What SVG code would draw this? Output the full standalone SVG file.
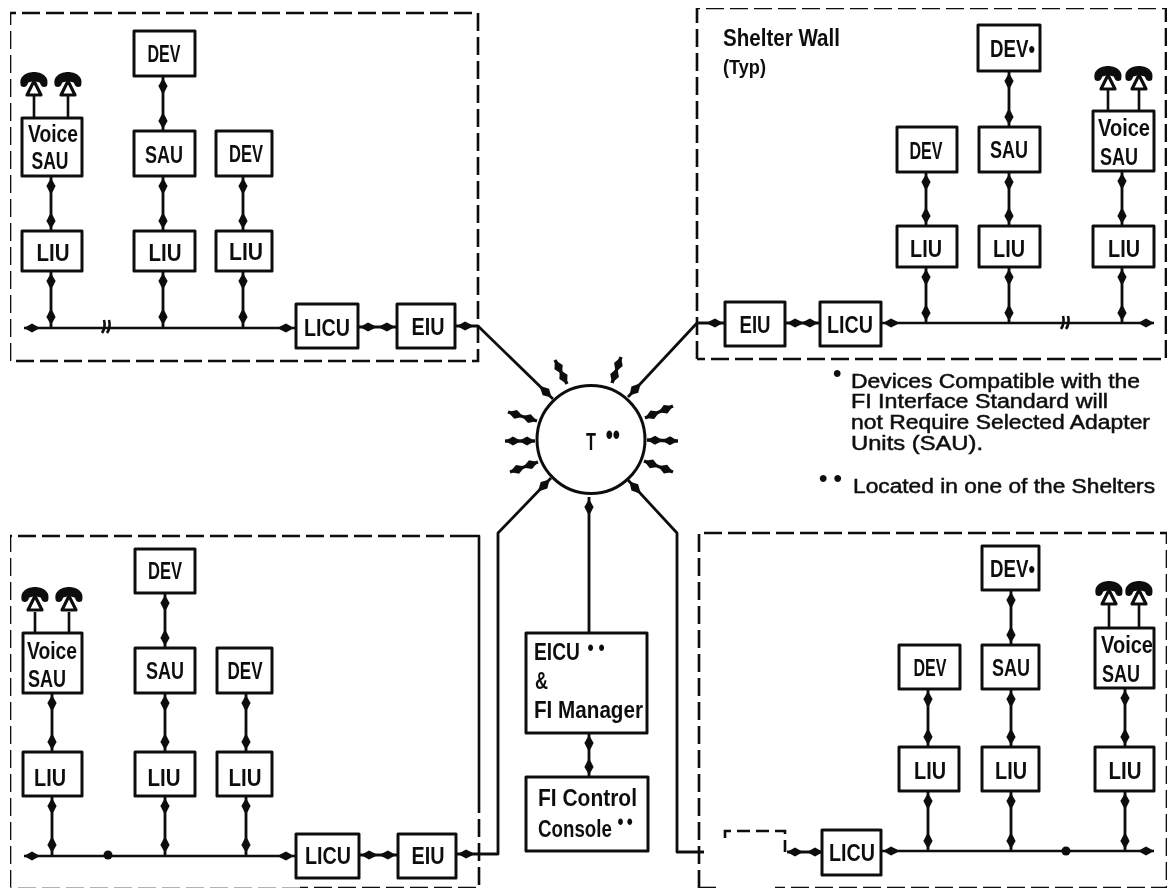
<svg xmlns="http://www.w3.org/2000/svg" xmlns:xlink="http://www.w3.org/1999/xlink" width="1167" height="891" viewBox="0 0 1167 891">
<style>
.box{fill:#fff;stroke:#111;stroke-width:3;stroke-linejoin:round}
.p{fill:none;stroke:#111;stroke-width:2.6;stroke-dasharray:18 6}
.s{fill:none;stroke:#111;stroke-width:2.6;stroke-linejoin:round}
.c{fill:none;stroke:#111;stroke-width:2.8;stroke-linejoin:round;marker-start:url(#d);marker-end:url(#d)}
.b{fill:none;stroke:#111;stroke-width:2.6;stroke-linejoin:round;marker-start:url(#e);marker-end:url(#d)}
.t{fill:none;stroke:#111;stroke-width:3.4;marker-start:url(#e);marker-end:url(#e)}
.n{fill:none;stroke:#111;stroke-width:2.8;stroke-linejoin:round;marker-end:url(#d)}
text{font-family:"Liberation Sans",Arial,sans-serif;fill:#111;font-size:24px;font-weight:700;text-anchor:middle}
.l{text-anchor:start}
.f{font-size:20px;font-weight:400;stroke:#111;stroke-width:.5;text-anchor:start}
</style>
<defs>
<marker id="d" markerUnits="userSpaceOnUse" markerWidth="30" markerHeight="12" viewBox="-24 -6 30 12" refX="0" refY="0" orient="auto-start-reverse" overflow="visible"><path d="M-19 0L-10 -4.6L-2 0L-10 4.6Z" fill="#111"/></marker>
<marker id="e" markerUnits="userSpaceOnUse" markerWidth="30" markerHeight="12" viewBox="-24 -6 30 12" refX="0" refY="0" orient="auto-start-reverse" overflow="visible"><path d="M-16 0L-8 -4.6L0 0L-8 4.6Z" fill="#111"/></marker>
<g id="phone"><path d="M-13 -11C-16 -21 -7 -25 0 -25C7 -25 16 -21 13 -11C10 -9 7 -10 6 -14C4 -16 -4 -16 -6 -14C-7 -10 -10 -9 -13 -11Z" fill="#111"/><path d="M0 -16L-7 -2L7 -2Z" fill="#fff" stroke="#111" stroke-width="3.2" stroke-linejoin="round"/></g>
<filter id="soft" x="0" y="0" width="100%" height="100%"><feGaussianBlur stdDeviation="0.6"/></filter>
</defs>
<rect width="1167" height="891" fill="#fff"/>
<g filter="url(#soft)">
<g id="shelter-walls">
<path class="p" d="M10 361V13H478V361H10"/>
<path class="p" d="M697 359V8H1166V359H697"/>
<path class="p" d="M10 888V536H470"/><path class="s" d="M468 536H479V795"/><path class="p" d="M479 795V888H300"/><path class="p" d="M300 888H10" style="stroke:#999;stroke-width:1.5"/>
<path class="p" d="M699 888V533H1167V888H775"/><path class="s" d="M699 888H716"/>
<path class="p" d="M725 838V831H785V852" style="stroke-dasharray:13 6"/>
</g>
<g id="connectors">
<path class="b" d="M24 328H296"/><path class="s" d="M102 333Q106 327 104 320M107 333Q111 327 109 320"/>
<path class="c" d="M51 176V231"/><path class="c" d="M51 271V327"/><path class="c" d="M163 76V131"/><path class="c" d="M163 176V231"/><path class="c" d="M163 271V327"/><path class="c" d="M243 176V231"/><path class="c" d="M243 271V327"/>
<path class="s" d="M34 95V118M68 95V118"/>
<path class="c" d="M358 327H397"/><path class="c" d="M455 326H478L553 399"/>
<path class="b" d="M1154 323H881"/><path class="s" d="M1061 329Q1065 323 1063 316M1066 329Q1070 323 1068 316"/>
<path class="c" d="M926 172V226"/><path class="c" d="M926 267V323"/><path class="c" d="M1009 71V127"/><path class="c" d="M1009 172V226"/><path class="c" d="M1009 267V323"/><path class="c" d="M1122 171V226"/><path class="c" d="M1122 267V323"/>
<path class="s" d="M1108 90V111M1139 90V111"/>
<path class="c" d="M785 323H820"/><path class="c" d="M725 323H697L628 397"/>
<path class="b" d="M24 856H296"/><circle cx="108" cy="855" r="4.5" fill="#111"/>
<path class="c" d="M52 693V752"/><path class="c" d="M52 796V855"/><path class="c" d="M165 593V648"/><path class="c" d="M165 693V752"/><path class="c" d="M165 796V855"/><path class="c" d="M246 693V752"/><path class="c" d="M246 796V855"/>
<path class="s" d="M35 612V633M69 612V633"/>
<path class="c" d="M359 855H398"/><path class="c" d="M456 854H498V533L551 478"/>
<path class="b" d="M1154 851H881"/><circle cx="1066" cy="851" r="4.5" fill="#111"/>
<path class="c" d="M928 689V747"/><path class="c" d="M928 791V851"/><path class="c" d="M1011 590V645"/><path class="c" d="M1011 689V747"/><path class="c" d="M1011 791V851"/><path class="c" d="M1125 688V747"/><path class="c" d="M1125 791V851"/>
<path class="s" d="M1109 604V628M1139 604V628"/>
<path class="t" d="M787 852H823" style="stroke-width:2.8"/><path class="n" d="M704 852H677V533L628 480"/>
<path class="n" d="M589 633V497"/><path class="c" d="M589 733V777"/>
<path class="t" d="M555 360L567 384"/><path class="t" d="M621 357L612 383"/><path class="t" d="M508 412L537 421"/><path class="t" d="M505 441L535 441"/><path class="t" d="M510 472L538 462"/><path class="t" d="M673 406L645 418"/><path class="t" d="M678 441L647 440"/><path class="t" d="M673 472L644 461"/>
</g>
<g id="phones">
<use xlink:href="#phone" href="#phone" x="34" y="97"/><use xlink:href="#phone" href="#phone" x="68" y="97"/>
<use xlink:href="#phone" href="#phone" x="1108" y="91"/><use xlink:href="#phone" href="#phone" x="1139" y="91"/>
<use xlink:href="#phone" href="#phone" x="35" y="612"/><use xlink:href="#phone" href="#phone" x="69" y="612"/>
<use xlink:href="#phone" href="#phone" x="1109" y="606"/><use xlink:href="#phone" href="#phone" x="1139" y="606"/>
</g>
<g id="tl-dev1"><rect class="box" x="134" y="31" width="61" height="45"/><text x="164" y="62" textLength="33" lengthAdjust="spacingAndGlyphs">DEV</text></g>
<g id="tl-voice"><rect class="box" x="22" y="118" width="60" height="58"/><text x="53" y="142" textLength="50" lengthAdjust="spacingAndGlyphs">Voice</text><text x="50" y="169" textLength="37" lengthAdjust="spacingAndGlyphs">SAU</text></g>
<g id="tl-sau"><rect class="box" x="134" y="131" width="61" height="45"/><text x="164" y="163" textLength="38" lengthAdjust="spacingAndGlyphs">SAU</text></g>
<g id="tl-dev2"><rect class="box" x="216" y="131" width="56" height="45"/><text x="246" y="162" textLength="34" lengthAdjust="spacingAndGlyphs">DEV</text></g>
<g id="tl-liu1"><rect class="box" x="22" y="231" width="60" height="40"/><text x="53" y="261" textLength="33" lengthAdjust="spacingAndGlyphs">LIU</text></g>
<g id="tl-liu2"><rect class="box" x="134" y="231" width="61" height="40"/><text x="165" y="261" textLength="33" lengthAdjust="spacingAndGlyphs">LIU</text></g>
<g id="tl-liu3"><rect class="box" x="216" y="231" width="56" height="40"/><text x="246" y="260" textLength="34" lengthAdjust="spacingAndGlyphs">LIU</text></g>
<g id="tl-licu"><rect class="box" x="296" y="304" width="62" height="44"/><text x="327" y="336" textLength="46" lengthAdjust="spacingAndGlyphs">LICU</text></g>
<g id="tl-eiu"><rect class="box" x="397" y="304" width="58" height="44"/><text x="428" y="335" textLength="33" lengthAdjust="spacingAndGlyphs">EIU</text></g>
<g id="tr-wall-label"><text class="l" x="723" y="46" textLength="117" lengthAdjust="spacingAndGlyphs">Shelter Wall</text><text class="l" x="723" y="74" textLength="43" lengthAdjust="spacingAndGlyphs" style="font-size:21px">(Typ)</text></g>
<g id="tr-dev1"><rect class="box" x="978" y="25" width="62" height="46"/><text class="l" x="990" y="57" textLength="45" lengthAdjust="spacingAndGlyphs">DEV•</text></g>
<g id="tr-dev2"><rect class="box" x="897" y="127" width="60" height="45"/><text x="926" y="159" textLength="33" lengthAdjust="spacingAndGlyphs">DEV</text></g>
<g id="tr-sau"><rect class="box" x="979" y="127" width="61" height="45"/><text x="1009" y="158" textLength="38" lengthAdjust="spacingAndGlyphs">SAU</text></g>
<g id="tr-voice"><rect class="box" x="1093" y="111" width="61" height="60"/><text x="1124" y="136" textLength="52" lengthAdjust="spacingAndGlyphs">Voice</text><text x="1119" y="165" textLength="38" lengthAdjust="spacingAndGlyphs">SAU</text></g>
<g id="tr-liu1"><rect class="box" x="897" y="226" width="60" height="41"/><text x="926" y="257" textLength="32" lengthAdjust="spacingAndGlyphs">LIU</text></g>
<g id="tr-liu2"><rect class="box" x="979" y="226" width="61" height="41"/><text x="1009" y="257" textLength="32" lengthAdjust="spacingAndGlyphs">LIU</text></g>
<g id="tr-liu3"><rect class="box" x="1093" y="226" width="61" height="41"/><text x="1124" y="257" textLength="32" lengthAdjust="spacingAndGlyphs">LIU</text></g>
<g id="tr-eiu"><rect class="box" x="725" y="302" width="60" height="44"/><text x="755" y="333" textLength="31" lengthAdjust="spacingAndGlyphs">EIU</text></g>
<g id="tr-licu"><rect class="box" x="820" y="302" width="61" height="44"/><text x="850" y="333" textLength="46" lengthAdjust="spacingAndGlyphs">LICU</text></g>
<g id="bl-dev1"><rect class="box" x="135" y="549" width="60" height="44"/><text x="165" y="579" textLength="34" lengthAdjust="spacingAndGlyphs">DEV</text></g>
<g id="bl-voice"><rect class="box" x="23" y="633" width="59" height="60"/><text x="52" y="659" textLength="50" lengthAdjust="spacingAndGlyphs">Voice</text><text x="47" y="687" textLength="38" lengthAdjust="spacingAndGlyphs">SAU</text></g>
<g id="bl-sau"><rect class="box" x="135" y="648" width="60" height="45"/><text x="165" y="679" textLength="38" lengthAdjust="spacingAndGlyphs">SAU</text></g>
<g id="bl-dev2"><rect class="box" x="217" y="648" width="55" height="45"/><text x="245" y="679" textLength="35" lengthAdjust="spacingAndGlyphs">DEV</text></g>
<g id="bl-liu1"><rect class="box" x="23" y="752" width="59" height="44"/><text x="50" y="786" textLength="32" lengthAdjust="spacingAndGlyphs">LIU</text></g>
<g id="bl-liu2"><rect class="box" x="135" y="752" width="60" height="44"/><text x="164" y="786" textLength="33" lengthAdjust="spacingAndGlyphs">LIU</text></g>
<g id="bl-liu3"><rect class="box" x="217" y="752" width="55" height="44"/><text x="245" y="786" textLength="33" lengthAdjust="spacingAndGlyphs">LIU</text></g>
<g id="bl-licu"><rect class="box" x="296" y="834" width="63" height="44"/><text x="328" y="864" textLength="46" lengthAdjust="spacingAndGlyphs">LICU</text></g>
<g id="bl-eiu"><rect class="box" x="398" y="834" width="58" height="44"/><text x="428" y="864" textLength="33" lengthAdjust="spacingAndGlyphs">EIU</text></g>
<g id="br-dev1"><rect class="box" x="982" y="546" width="57" height="44"/><text class="l" x="990" y="577" textLength="45" lengthAdjust="spacingAndGlyphs">DEV•</text></g>
<g id="br-dev2"><rect class="box" x="899" y="645" width="61" height="44"/><text x="930" y="676" textLength="33" lengthAdjust="spacingAndGlyphs">DEV</text></g>
<g id="br-sau"><rect class="box" x="982" y="645" width="57" height="44"/><text x="1011" y="676" textLength="38" lengthAdjust="spacingAndGlyphs">SAU</text></g>
<g id="br-voice"><rect class="box" x="1095" y="628" width="59" height="60"/><text x="1127" y="653" textLength="52" lengthAdjust="spacingAndGlyphs">Voice</text><text x="1121" y="682" textLength="38" lengthAdjust="spacingAndGlyphs">SAU</text></g>
<g id="br-liu1"><rect class="box" x="899" y="747" width="60" height="44"/><text x="930" y="779" textLength="32" lengthAdjust="spacingAndGlyphs">LIU</text></g>
<g id="br-liu2"><rect class="box" x="982" y="747" width="57" height="44"/><text x="1011" y="779" textLength="32" lengthAdjust="spacingAndGlyphs">LIU</text></g>
<g id="br-liu3"><rect class="box" x="1095" y="747" width="59" height="44"/><text x="1125" y="779" textLength="33" lengthAdjust="spacingAndGlyphs">LIU</text></g>
<g id="br-licu"><rect class="box" x="822" y="830" width="59" height="45"/><text x="852" y="861" textLength="46" lengthAdjust="spacingAndGlyphs">LICU</text></g>
<g id="hub"><circle cx="591" cy="439.5" r="54" fill="#fff" stroke="#111" stroke-width="3"/><text class="l" transform="translate(586 450) scale(.68 1)">T <tspan x="29" dy="-5" style="font-size:30px">••</tspan></text></g>
<g id="eicu"><rect class="box" x="526" y="633" width="121" height="100"/><text class="l" transform="translate(534 660) scale(.8 1)">EICU <tspan x="67" dy="-5" style="font-size:22px;letter-spacing:6px">••</tspan></text><text class="l" x="535" y="689" textLength="13" lengthAdjust="spacingAndGlyphs">&amp;</text><text class="l" x="534" y="718" textLength="109" lengthAdjust="spacingAndGlyphs">FI Manager</text></g>
<g id="console"><rect class="box" x="526" y="777" width="122" height="74"/><text class="l" x="538" y="806" textLength="99" lengthAdjust="spacingAndGlyphs">FI Control</text><text class="l" transform="translate(538 837) scale(.78 1)">Console<tspan x="102" dy="-8" style="font-size:22px;letter-spacing:4px">••</tspan></text></g>
<g id="notes">
<text class="l" x="833" y="381">•</text>
<text class="f" x="851" y="388" textLength="289" lengthAdjust="spacingAndGlyphs">Devices Compatible with the</text>
<text class="f" x="851" y="408" textLength="257" lengthAdjust="spacingAndGlyphs">FI Interface Standard will</text>
<text class="f" x="851" y="429" textLength="299" lengthAdjust="spacingAndGlyphs">not Require Selected Adapter</text>
<text class="f" x="851" y="450" textLength="132" lengthAdjust="spacingAndGlyphs">Units (SAU).</text>
<text class="l" x="819" y="486" style="letter-spacing:6px">••</text>
<text class="f" x="853" y="493" textLength="302" lengthAdjust="spacingAndGlyphs">Located in one of the Shelters</text>
</g>
</g>
</svg>
